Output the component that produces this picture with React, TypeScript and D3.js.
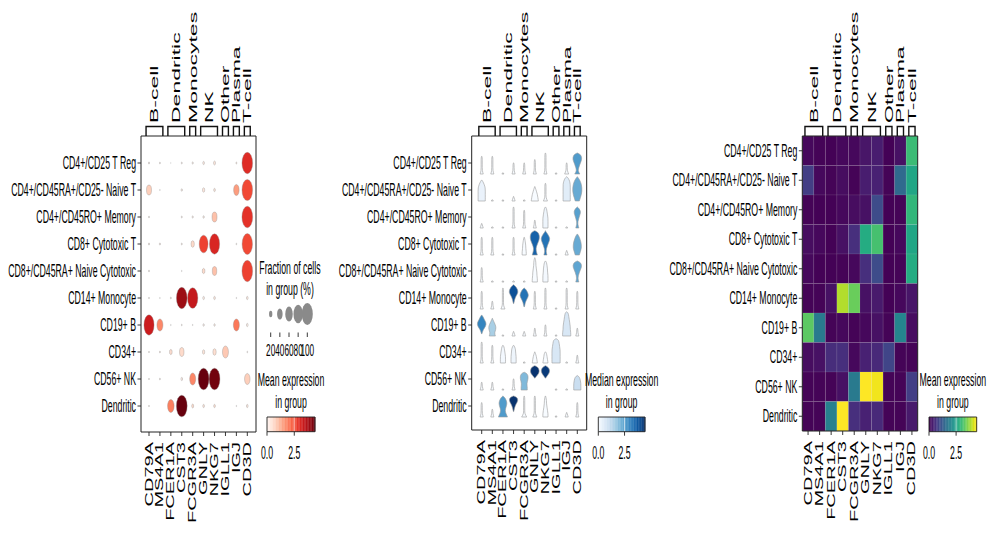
import * as d3 from 'd3';

// ---- data ----
const cellTypes = [
  'CD4+/CD25 T Reg',
  'CD4+/CD45RA+/CD25- Naive T',
  'CD4+/CD45RO+ Memory',
  'CD8+ Cytotoxic T',
  'CD8+/CD45RA+ Naive Cytotoxic',
  'CD14+ Monocyte',
  'CD19+ B',
  'CD34+',
  'CD56+ NK',
  'Dendritic',
];
const genes = ['CD79A', 'MS4A1', 'FCER1A', 'CST3', 'FCGR3A', 'GNLY', 'NKG7', 'IGLL1', 'IGJ', 'CD3D'];
const geneGroups = ['B-cell', 'B-cell', 'Dendritic', 'Dendritic', 'Monocytes', 'NK', 'NK', 'Other', 'Plasma', 'T-cell'];

// mean expression per group (rows = cell types, cols = genes)
const meanExpression = [
  [0.1, 0.05, 0.02, 0.1, 0.1, 0.25, 0.35, 0.02, 0.2, 3.0],
  [0.8, 0.1, 0.05, 0.15, 0.05, 0.35, 0.4, 0.05, 1.5, 2.6],
  [0.05, 0.02, 0.02, 0.1, 0.15, 0.2, 1.0, 0.02, 0.05, 2.9],
  [0.15, 0.1, 0.02, 0.2, 0.6, 2.7, 3.1, 0.02, 0.1, 2.6],
  [0.1, 0.02, 0.02, 0.05, 0.1, 0.6, 1.0, 0.02, 0.05, 2.7],
  [0.05, 0.05, 0.2, 3.9, 3.4, 0.2, 0.3, 0.02, 0.1, 0.25],
  [3.3, 1.8, 0.05, 0.1, 0.05, 0.1, 0.2, 0.05, 2.0, 0.15],
  [0.15, 0.2, 0.55, 0.6, 0.1, 0.4, 0.5, 0.9, 0.05, 0.05],
  [0.05, 0.05, 0.05, 0.2, 1.8, 4.4, 4.3, 0.05, 0.05, 0.8],
  [0.05, 0.05, 1.9, 4.4, 0.6, 0.4, 0.5, 0.05, 0.05, 0.3],
];

// fraction of cells expressing
const fractionExpressing = [
  [0.05, 0.04, 0.01, 0.04, 0.05, 0.08, 0.1, 0, 0.04, 0.96],
  [0.35, 0.02, 0, 0.06, 0, 0.12, 0.08, 0, 0.4, 0.95],
  [0.04, 0, 0, 0.04, 0.05, 0.06, 0.35, 0, 0, 0.97],
  [0.05, 0.05, 0, 0.04, 0.2, 0.75, 0.9, 0, 0.03, 0.93],
  [0.04, 0, 0, 0.02, 0, 0.15, 0.3, 0, 0, 0.96],
  [0.03, 0.02, 0.04, 0.96, 0.92, 0.08, 0.08, 0, 0.02, 0.08],
  [0.9, 0.45, 0.02, 0.03, 0.02, 0.06, 0.06, 0, 0.45, 0.08],
  [0.03, 0.04, 0.15, 0.3, 0, 0.12, 0.2, 0.45, 0, 0.03],
  [0.03, 0.04, 0, 0.08, 0.45, 0.98, 0.98, 0, 0, 0.4],
  [0.03, 0, 0.5, 0.98, 0.1, 0.08, 0.08, 0, 0.02, 0.08],
];

// median expression (violin fill)
const medianExpression = [
  [0, 0, 0, 0, 0, 0, 0, 0, 0, 2.6],
  [0.3, 0, 0, 0, 0, 0, 0, 0, 0.5, 2.3],
  [0, 0, 0, 0, 0, 0, 0.2, 0, 0, 2.5],
  [0, 0, 0, 0, 0, 3.6, 3.3, 0, 0, 2.3],
  [0, 0, 0, 0, 0, 0, 0.1, 0, 0, 2.4],
  [0, 0, 0, 3.9, 3.3, 0, 0, 0, 0, 0],
  [3.0, 1.5, 0, 0, 0, 0, 0, 0, 0.7, 0],
  [0, 0, 0.1, 0.2, 0, 0, 0, 0.7, 0, 0],
  [0, 0, 0, 0, 2.0, 4.4, 4.3, 0, 0, 1.0],
  [0, 0, 2.6, 4.4, 0, 0, 0, 0, 0, 0],
];

// violin density widths (0-9), expression bins from 0 (bottom) to max (top)
const violinProfiles = [
  ['31111100', '31111100', '20000000', '31110000', '31110000', '31111000', '31111110', '20000000', '41110000', '51358960'],
  ['77777520', '20000000', '20000000', '31000000', '20000000', '76531000', '41111100', '20000000', '77777763', '46899862'],
  ['31000000', '20000000', '20000000', '31111110', '31111100', '31100000', '55554320', '20000000', '20000000', '31135730'],
  ['31111100', '31111100', '20000000', '31111100', '44332100', '53247996', '31247961', '20000000', '31000000', '46887520'],
  ['31111000', '20000000', '20000000', '20000000', '20000000', '55443221', '55544320', '20000000', '20000000', '31247960'],
  ['31111100', '31100000', '41111110', '00125983', '01259730', '31111100', '31111110', '20000000', '31111110', '31111100'],
  ['01389520', '64774100', '20000000', '31000000', '31000000', '31100000', '31110000', '20000000', '88776543', '31100000'],
  ['31111110', '31111100', '55543200', '55544200', '20000000', '54310000', '54320000', '88888765', '20000000', '31100000'],
  ['31100000', '31100000', '20000000', '31110000', '66578600', '00002896', '00002795', '20000000', '20000000', '77764000'],
  ['31111000', '31100000', '96468730', '00125970', '51111110', '41111110', '55432210', '20000000', '31000000', '31111000'],
];

const sizeLegendValues = [20, 40, 60, 80, 100];
const colorbarTicks = [0, 2.5];

// ---- layout ----
const W = 991;
const H = 537;
const SX = 0.5; // the reference figure is squeezed horizontally
const u = (px: number) => px / SX;
const FONT = '"Liberation Sans", Arial, Helvetica, sans-serif';
const ROW_FONT = 17.5;
const GENE_FONT = 20;
const GROUP_FONT = 23;
const BRACKET_TOP = 126.5;
const INK = '#222';

type Box = { left: number; right: number; top: number; bottom: number };

const dotBox: Box = { left: 141, right: 256, top: 136, bottom: 432 };
const violinBox: Box = { left: 471.7, right: 586.7, top: 136, bottom: 430 };
const matrixBox: Box = { left: 802.3, right: 917.7, top: 136, bottom: 431 };

const rowY = d3.scalePoint<string>().domain(cellTypes).range([163, 406]);

function GeneAxes({ box, x, y, step }: { box: Box; x: (g: string) => number; y: (c: string) => number; step: number }) {
  const groups = d3.groups(genes.map((g, i) => ({ g, group: geneGroups[i] })), (d) => d.group);
  return (
    <g>
      <rect x={u(box.left)} y={box.top} width={u(box.right - box.left)} height={box.bottom - box.top} fill="none" stroke={INK} strokeWidth={1} vectorEffect="non-scaling-stroke" />
      {cellTypes.map((c) => (
        <g key={c}>
          <line x1={u(box.left - 3.5)} x2={u(box.left)} y1={y(c)} y2={y(c)} stroke={INK} strokeWidth={0.9} vectorEffect="non-scaling-stroke" />
          <text x={u(box.left - 5)} y={y(c)} dy="0.35em" textAnchor="end" fontSize={ROW_FONT}>{c}</text>
        </g>
      ))}
      {genes.map((g) => (
        <g key={g}>
          <line x1={u(x(g))} x2={u(x(g))} y1={box.bottom} y2={box.bottom + 4} stroke={INK} strokeWidth={0.9} vectorEffect="non-scaling-stroke" />
          <text transform={`translate(${u(x(g))},${box.bottom + 10}) rotate(-90)`} dy="0.35em" textAnchor="end" fontSize={GENE_FONT}>{g}</text>
        </g>
      ))}
      {groups.map(([name, items]) => {
        const first = x(items[0].g);
        const last = x(items[items.length - 1].g);
        const x0 = first - step * 0.27;
        const x1 = last + step * 0.27;
        return (
          <g key={name}>
            <path d={`M${u(x0)},${box.top} V${BRACKET_TOP} H${u(x1)} V${box.top}`} fill="none" stroke="#111" strokeWidth={1.4} vectorEffect="non-scaling-stroke" />
            <text transform={`translate(${u((first + last) / 2)},${BRACKET_TOP - 3.5}) rotate(-90)`} dy="0.35em" fontSize={GROUP_FONT}>{name}</text>
          </g>
        );
      })}
    </g>
  );
}

function Colorbar({ x0, x1, interp, vmax, title }: { x0: number; x1: number; interp: (t: number) => string; vmax: number; title: string[] }) {
  const y0 = 417;
  const y1 = 431.7;
  const scale = d3.scaleLinear().domain([0, vmax]).range([x0, x1]);
  const steps = d3.range(0, 64);
  const cx = (x0 + x1) / 2;
  return (
    <g>
      {title.map((line, i) => (
        <text key={line} x={u(cx)} y={380 + i * 21.5} dy="0.35em" textAnchor="middle" fontSize={ROW_FONT}>{line}</text>
      ))}
      {steps.map((s) => (
        <rect key={s} x={u(scale((s / 64) * vmax))} y={y0} width={u((x1 - x0) / 64) + 0.6} height={y1 - y0} fill={interp((s + 0.5) / 64)} />
      ))}
      {colorbarTicks.map((t) => (
        <g key={t}>
          {t > 0 && <line x1={u(scale(t))} x2={u(scale(t))} y1={y0} y2={y1} stroke="#fff" strokeOpacity={0.75} strokeWidth={0.8} vectorEffect="non-scaling-stroke" />}
          <line x1={u(scale(t))} x2={u(scale(t))} y1={y1} y2={y1 + 4} stroke={INK} strokeWidth={0.9} vectorEffect="non-scaling-stroke" />
          <text x={u(scale(t))} y={453} dy="0.35em" textAnchor="middle" fontSize={ROW_FONT}>{t.toFixed(1)}</text>
        </g>
      ))}
      <rect x={u(x0)} y={y0} width={u(x1 - x0)} height={y1 - y0} fill="none" stroke={INK} strokeWidth={0.9} vectorEffect="non-scaling-stroke" />
    </g>
  );
}

function DotPanel() {
  const x = d3.scalePoint<string>().domain(genes).range([149, 247.3]);
  const step = x.step();
  const color = d3.scaleSequential(d3.interpolateReds).domain([0, 4.4]);
  const radius = d3.scalePow().exponent(0.75).domain([0, 1]).range([0, 11]);
  const legendX = d3.scalePoint<number>().domain(sizeLegendValues).range([270.7, 307.3]);
  return (
    <g>
      {cellTypes.map((c, r) =>
        genes.map((g, i) => {
          const f = fractionExpressing[r][i];
          if (f <= 0) return null;
          return (
            <ellipse key={`${c}-${g}`} cx={u(x(g)!)} cy={rowY(c)!} rx={u(radius(f) * SX)} ry={radius(f)} fill={color(meanExpression[r][i])} stroke="#8c8c8c" strokeWidth={0.35} vectorEffect="non-scaling-stroke" />
          );
        }),
      )}
      <GeneAxes box={dotBox} x={(g) => x(g)!} y={(c) => rowY(c)!} step={step} />
      {['Fraction of cells', 'in group (%)'].map((line, i) => (
        <text key={line} x={u(290)} y={267.7 + i * 21.5} dy="0.35em" textAnchor="middle" fontSize={ROW_FONT}>{line}</text>
      ))}
      {sizeLegendValues.map((v) => (
        <g key={v}>
          <ellipse cx={u(legendX(v)!)} cy={314} rx={u(radius(v / 100) * SX)} ry={radius(v / 100)} fill="#8a8a8a" />
          <line x1={u(legendX(v)!)} x2={u(legendX(v)!)} y1={332.5} y2={337} stroke={INK} strokeWidth={0.9} vectorEffect="non-scaling-stroke" />
          <text x={u(legendX(v)!)} y={350} dy="0.35em" textAnchor="middle" fontSize={16.5}>{v}</text>
        </g>
      ))}
      <Colorbar x0={267} x1={315} interp={d3.interpolateReds} vmax={4.4} title={['Mean expression', 'in group']} />
    </g>
  );
}

function ViolinPanel() {
  const x = d3.scalePoint<string>().domain(genes).range([481.7, 577.3]);
  const step = x.step();
  const color = d3.scaleSequential(d3.interpolateBlues).domain([0, 4.45]);
  const halfWidth = d3.scaleLinear().domain([0, 9]).range([0.12, u(4.6)]);
  const levelY = d3.scaleLinear().domain([0, 7]).range([11, -12]);
  return (
    <g>
      {cellTypes.map((c, r) =>
        genes.map((g, i) => {
          const digits = violinProfiles[r][i].split('').map(Number);
          const firstIdx = digits.findIndex((d) => d > 0);
          let lastIdx = digits.length - 1;
          while (digits[lastIdx] === 0) lastIdx--;
          const pts = digits.slice(firstIdx, lastIdx + 1).map((w, k) => ({ lvl: firstIdx + k, w }));
          if (firstIdx > 0) pts.unshift({ lvl: firstIdx - 0.4, w: 0 });
          pts.push({ lvl: lastIdx + 0.4, w: 0 });
          const cx = u(x(g)!);
          const cy = rowY(c)!;
          const area = d3
            .area<{ lvl: number; w: number }>()
            .y((d) => cy + levelY(d.lvl))
            .x0((d) => cx - halfWidth(d.w))
            .x1((d) => cx + halfWidth(d.w))
            .curve(d3.curveBasis);
          return (
            <path key={`${c}-${g}`} d={area(pts) ?? undefined} fill={color(medianExpression[r][i])} stroke="#9a9a9a" strokeWidth={0.6} vectorEffect="non-scaling-stroke" />
          );
        }),
      )}
      <GeneAxes box={violinBox} x={(g) => x(g)!} y={(c) => rowY(c)!} step={step} />
      <Colorbar x0={598.3} x1={645} interp={d3.interpolateBlues} vmax={4.45} title={['Median expression', 'in group']} />
    </g>
  );
}

function MatrixPanel() {
  const x = d3.scaleBand<string>().domain(genes).range([matrixBox.left, matrixBox.right]);
  const y = d3.scaleBand<string>().domain(cellTypes).range([matrixBox.top, matrixBox.bottom]);
  const color = d3.scaleSequential(d3.interpolateViridis).domain([0, 4.4]);
  return (
    <g>
      {cellTypes.map((c, r) =>
        genes.map((g, i) => (
          <rect key={`${c}-${g}`} x={u(x(g)!)} y={y(c)!} width={u(x.bandwidth())} height={y.bandwidth()} fill={color(meanExpression[r][i])} stroke="#cfcfcf" strokeOpacity={0.2} strokeWidth={0.5} vectorEffect="non-scaling-stroke" />
        )),
      )}
      <GeneAxes box={matrixBox} x={(g) => x(g)! + x.bandwidth() / 2} y={(c) => y(c)! + y.bandwidth() / 2} step={x.bandwidth()} />
      <Colorbar x0={929} x1={976.7} interp={d3.interpolateViridis} vmax={4.4} title={['Mean expression', 'in group']} />
    </g>
  );
}

export default function App() {
  return (
    <svg width={W} height={H} style={{ position: 'fixed', left: 0, top: 0, display: 'block' }} fontFamily={FONT}>
      <rect width={W} height={H} fill="#fff" />
      <g transform={`scale(${SX},1)`}>
        <DotPanel />
        <ViolinPanel />
        <MatrixPanel />
      </g>
    </svg>
  );
}
